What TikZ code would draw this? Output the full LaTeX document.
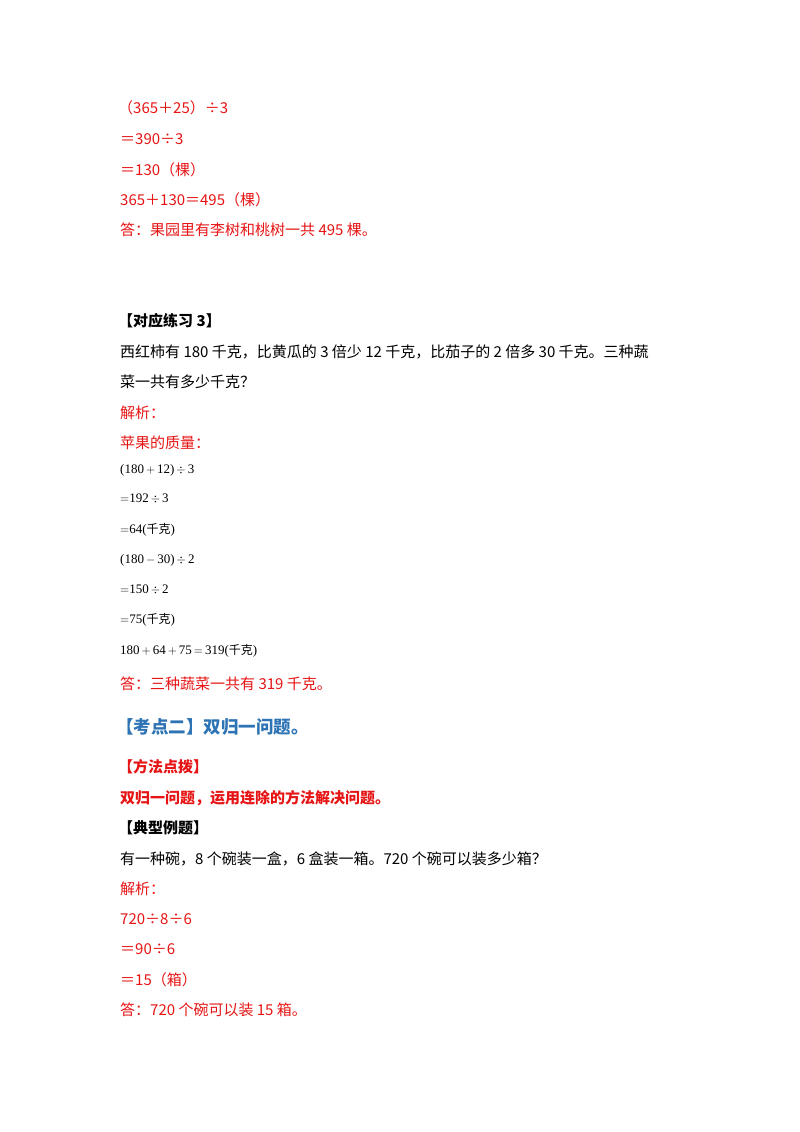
\documentclass[tikz,border=0pt]{standalone}
\usepackage{fontspec}
\setmainfont{Noto Sans CJK SC}
\newfontfamily\timesf{Liberation Serif}
\newfontfamily\cjkserif{Noto Sans CJK SC}
\definecolor{ansred}{RGB}{230,20,20}
\definecolor{headblue}{RGB}{46,116,181}
\begin{document}
\begin{tikzpicture}[x=1pt,y=-1pt,
  line/.style={anchor=west,inner sep=0pt,font=\fontsize{15}{17}\selectfont},
  red/.style={line,text=ansred},
  math/.style={anchor=west,inner sep=0pt,font=\fontsize{13}{15}\timesf}]
\useasboundingbox (0,0) rectangle (800,1132);
\node[red] (a1) at (118,108) {（365＋25）÷3};
\node[red] (a2) at (120,139) {＝390÷3};
\node[red] (a3) at (120,170) {＝130（棵）};
\node[red] (a4) at (120,200) {365＋130＝495（棵）};
\node[red] (a5) at (120,230) {答：果园里有李树和桃树一共 495 棵。};
\node[line,font=\fontsize{15}{17}\selectfont\bfseries] (b1) at (118,321) {【对应练习 3】};
\node[line] (b2) at (120,352) {西红柿有 180 千克，比黄瓜的 3 倍少 12 千克，比茄子的 2 倍多 30 千克。三种蔬};
\node[line] (b3) at (120,382) {菜一共有多少千克？};
\node[red] (b4) at (120,413) {解析：};
\node[red] (b5) at (120,443) {苹果的质量：};
\node[math] (m1) at (120,470) {(180$\,+\,$12)$\,\div\,$3};
\node[math] (m2) at (120,499) {$=$192$\,\div\,$3};
\node[math] (m3) at (120,530) {$=$64({\cjkserif\fontsize{12}{14}\selectfont 千克})};
\node[math] (m4) at (120,560) {(180$\,-\,$30)$\,\div\,$2};
\node[math] (m5) at (120,590) {$=$150$\,\div\,$2};
\node[math] (m6) at (120,620) {$=$75({\cjkserif\fontsize{12}{14}\selectfont 千克})};
\node[math] (m7) at (120,651) {180$\,+\,$64$\,+\,$75$\,=\,$319({\cjkserif\fontsize{12}{14}\selectfont 千克})};
\node[red] (b6) at (120,684) {答：三种蔬菜一共有 319 千克。};
\node[anchor=west,inner sep=0pt,text=headblue,font=\fontsize{17.5}{19}\selectfont\bfseries] (c1) at (116,727) {【考点二】双归一问题。};
\node[red,font=\fontsize{15}{17}\selectfont\bfseries] (c2) at (118,767) {【方法点拨】};
\node[red,font=\fontsize{15}{17}\selectfont\bfseries] (c3) at (120,798) {双归一问题，运用连除的方法解决问题。};
\node[line,font=\fontsize{15}{17}\selectfont\bfseries] (c4) at (118,828) {【典型例题】};
\node[line] (c5) at (120,859) {有一种碗，8 个碗装一盒，6 盒装一箱。720 个碗可以装多少箱？};
\node[red] (c6) at (120,889) {解析：};
\node[red] (c7) at (120,919) {720÷8÷6};
\node[red] (c8) at (120,949) {＝90÷6};
\node[red] (c9) at (120,980) {＝15（箱）};
\node[red] (c10) at (120,1010) {答：720 个碗可以装 15 箱。};
\end{tikzpicture}
\end{document}
